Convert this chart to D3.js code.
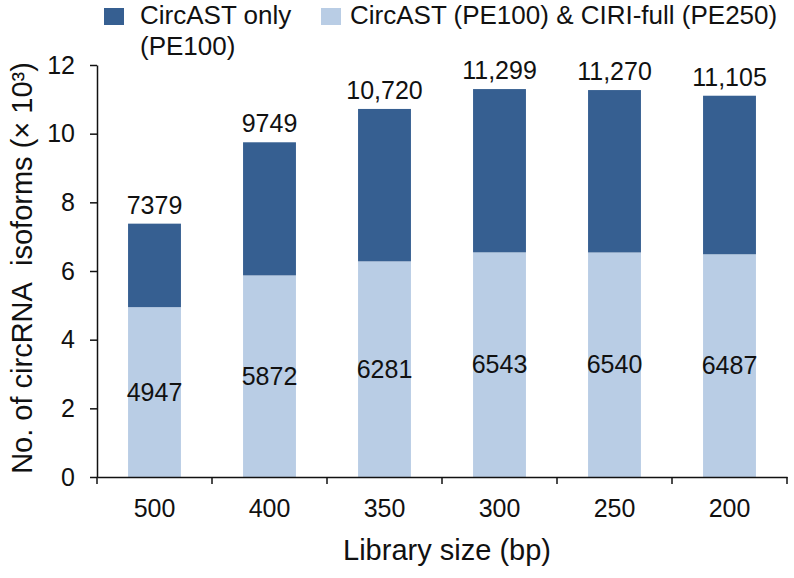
<!DOCTYPE html>
<html>
<head>
<meta charset="utf-8">
<script src="https://cdn.jsdelivr.net/npm/d3@7"></script>
<style>
  body { margin: 0; background: #fff; }
  svg text { font-family: Arial, "Liberation Sans", sans-serif; fill: #111; }
</style>
</head>
<body>
<div id="chart"></div>
<script>
// library sizes (bp), left to right
var sizes = ["500", "400", "350", "300", "250", "200"];
// isoforms found by both CircAST (PE100) & CIRI-full (PE250)
var shared = [4947, 5872, 6281, 6543, 6540, 6487];
// total isoforms found by CircAST (PE100)
var totals = [7379, 9749, 10720, 11299, 11270, 11105];
var yTicks = [0, 2, 4, 6, 8, 10, 12];
var colors = { only: "#365f91", shared: "#b9cde5" };

var W = 794, H = 578;
var svg = d3.select("#chart").append("svg")
  .attr("width", W)
  .attr("height", H);

var x = d3.scaleBand()
  .domain(sizes)
  .range([97, 787])
  .paddingInner(0.54)
  .paddingOuter(0.27);

var y = d3.scaleLinear()
  .domain([0, 12])
  .range([477, 65]);

var rows = sizes.map(function(s, i) {
  return { size: s, shared: shared[i], total: totals[i] };
});

var fmt = function(v) { return v >= 10000 ? d3.format(",")(v) : String(v); };

// bars: light segment (shared), dark segment (CircAST only) stacked on top
var g = svg.append("g");
g.selectAll(".shared")
  .data(rows).enter()
  .append("rect")
  .attr("x", function(d) { return x(d.size); })
  .attr("width", x.bandwidth())
  .attr("y", function(d) { return y(d.shared / 1000); })
  .attr("height", function(d) { return y(0) - y(d.shared / 1000); })
  .attr("fill", colors.shared);

g.selectAll(".only")
  .data(rows).enter()
  .append("rect")
  .attr("x", function(d) { return x(d.size); })
  .attr("width", x.bandwidth())
  .attr("y", function(d) { return y(d.total / 1000); })
  .attr("height", function(d) { return y(d.shared / 1000) - y(d.total / 1000); })
  .attr("fill", colors.only);

// value labels
g.selectAll(".lab-in")
  .data(rows).enter()
  .append("text")
  .attr("x", function(d) { return x(d.size) + x.bandwidth() / 2; })
  .attr("y", function(d) { return y(d.shared / 2000); })
  .attr("dy", "0.35em")
  .attr("text-anchor", "middle")
  .style("font-size", "25px")
  .text(function(d) { return fmt(d.shared); });

g.selectAll(".lab-top")
  .data(rows).enter()
  .append("text")
  .attr("x", function(d) { return x(d.size) + x.bandwidth() / 2; })
  .attr("y", function(d) { return y(d.total / 1000) - 10; })
  .attr("text-anchor", "middle")
  .style("font-size", "25px")
  .text(function(d) { return fmt(d.total); });

// y axis
var yAxis = svg.append("g")
  .attr("transform", "translate(97,0)")
  .call(d3.axisLeft(y).tickValues(yTicks).tickSize(7).tickSizeOuter(0).tickPadding(15));
yAxis.selectAll("text").style("font-size", "25px").attr("fill", "#111");
yAxis.selectAll("line, path").attr("stroke", "#111").attr("stroke-width", 1.5);

// x axis: labels at band centres, ticks on band boundaries
var xAxis = svg.append("g")
  .attr("transform", "translate(0,477)")
  .call(d3.axisBottom(x).tickSize(0).tickPadding(22));
xAxis.select("path").attr("stroke", "#111").attr("stroke-width", 1.5);
xAxis.selectAll("text").style("font-size", "25px").attr("fill", "#111");
var bounds = d3.range(sizes.length + 1).map(function(i) { return x.range()[0] + i * x.step(); });
xAxis.selectAll(".bound")
  .data(bounds).enter()
  .append("line")
  .attr("x1", function(d) { return d; })
  .attr("x2", function(d) { return d; })
  .attr("y1", 0)
  .attr("y2", 7)
  .attr("stroke", "#111")
  .attr("stroke-width", 1.5);

// axis titles
svg.append("text")
  .attr("x", 447)
  .attr("y", 560)
  .attr("text-anchor", "middle")
  .style("font-size", "29px")
  .text("Library size (bp)");

svg.append("text")
  .attr("transform", "translate(32,268) rotate(-90)")
  .attr("text-anchor", "middle")
  .style("font-size", "29px")
  .text("No. of circRNA\u00A0 isoforms (\u00D7 10\u00B3)");

// legend
var leg = svg.append("g");
leg.append("rect").attr("x", 104).attr("y", 8).attr("width", 20).attr("height", 17).attr("fill", colors.only);
leg.append("text").attr("x", 140).attr("y", 24).style("font-size", "26px").text("CircAST only");
leg.append("text").attr("x", 140).attr("y", 55).style("font-size", "26px").text("(PE100)");
leg.append("rect").attr("x", 321).attr("y", 8).attr("width", 20).attr("height", 17).attr("fill", colors.shared);
leg.append("text").attr("x", 350).attr("y", 24).style("font-size", "26px").text("CircAST (PE100) & CIRI-full (PE250)");
</script>
</body>
</html>
